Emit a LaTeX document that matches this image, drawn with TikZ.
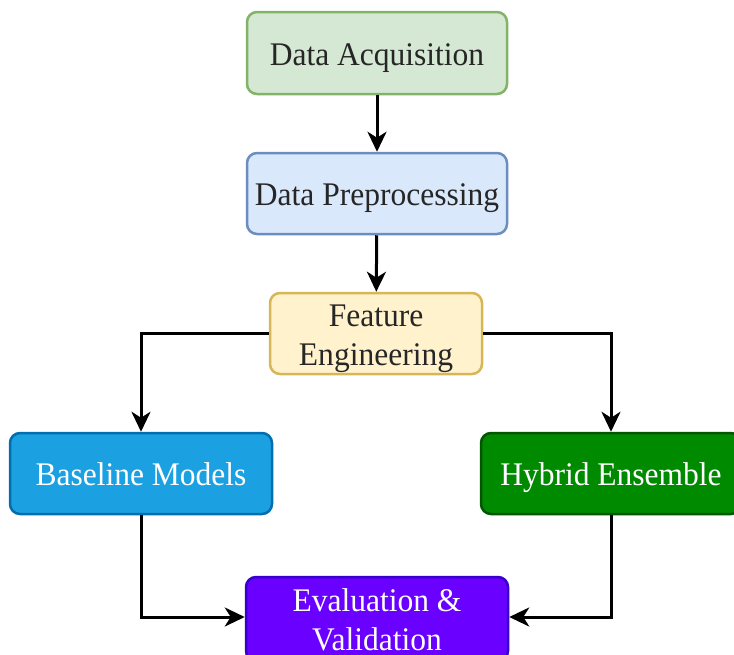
\documentclass[tikz,border=0pt]{standalone}
\usepackage{fontspec}
\setmainfont{Liberation Serif}[FakeStretch=0.955]
\usetikzlibrary{arrows.meta}
\definecolor{gfill}{HTML}{D5E8D4}\definecolor{gline}{HTML}{82B366}
\definecolor{bfill}{HTML}{DAE8FC}\definecolor{bline}{HTML}{6C8EBF}
\definecolor{yfill}{HTML}{FFF2CC}\definecolor{yline}{HTML}{D6B656}
\definecolor{cfill}{HTML}{1BA1E2}\definecolor{cline}{HTML}{006EAF}
\definecolor{dfill}{HTML}{008A00}\definecolor{dline}{HTML}{005700}
\definecolor{vfill}{HTML}{6A00FF}\definecolor{vline}{HTML}{3700CC}
\begin{document}
\begin{tikzpicture}[x=1pt,y=-1pt,
  box/.style={draw, line width=2.5pt, rounded corners=10pt, align=center,
    inner sep=0pt, text depth=6pt,
    font=\fontsize{33}{39}\selectfont},
  oneline/.style={text height=30pt},
  twoline/.style={text height=69pt},
  conn/.style={line width=3pt, -{Stealth[length=20pt,width=19pt,inset=6pt]}}]
\useasboundingbox (0,0) rectangle (734,654);
\node[box, oneline, fill=gfill, draw=gline, text=black!85, minimum width=260pt, minimum height=82pt] (acq) at (377,53) {Data Acquisition};
\node[box, oneline, fill=bfill, draw=bline, text=black!85, minimum width=260pt, minimum height=81pt] (pre) at (377,193.5) {Data Preprocessing};
\node[box, twoline, fill=yfill, draw=yline, text=black!85, minimum width=212pt, minimum height=81pt] (fe) at (376,333.5) {Feature\\Engineering};
\node[box, oneline, fill=cfill, draw=cline, text=white, minimum width=262pt, minimum height=81pt] (base) at (141,473.5) {Baseline Models};
\node[box, oneline, fill=dfill, draw=dline, text=white, minimum width=260pt, minimum height=81pt] (hyb) at (611,473.5) {Hybrid Ensemble};
\node[box, twoline, fill=vfill, draw=vline, text=white, minimum width=262pt, minimum height=84pt] (eval) at (377,619) {Evaluation \&\\Validation};
\draw[conn] (acq) -- (pre);
\draw[conn] (pre) -- (fe);
\draw[conn] (fe.west) -| (base.north);
\draw[conn] (fe.east) -| (hyb.north);
\draw[conn] (base.south) |- (eval.west |- 0,617);
\draw[conn] (hyb.south) |- (eval.east |- 0,617);
\end{tikzpicture}
\end{document}
